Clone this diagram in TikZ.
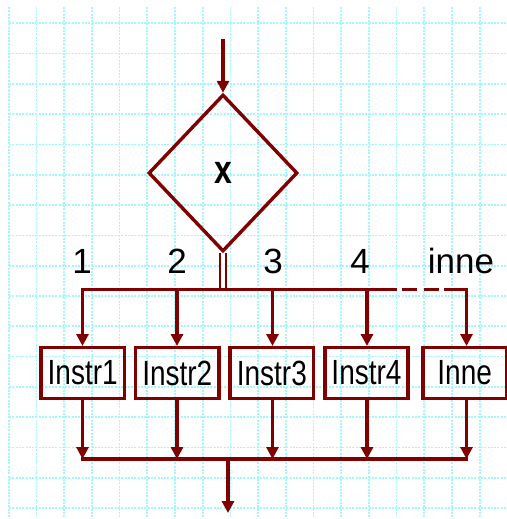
\documentclass[tikz,border=0pt]{standalone}
\usepackage{fontspec}
\setmainfont{Liberation Sans}
\newfontfamily\labfont{Liberation Sans}
\newfontfamily\boxfont[FakeStretch=0.8]{Liberation Sans}
\usetikzlibrary{arrows.meta,shapes.geometric}
\definecolor{flow}{RGB}{128,0,0}
\definecolor{gridc}{RGB}{165,248,250}

\begin{document}
\begin{tikzpicture}[x=1pt,y=-1pt,
  line/.style={draw=flow,line width=3.4pt},
  arr/.style={line,-{Triangle[width=12pt,length=12pt]}},
  gridline/.style={draw=gridc,line width=1.7pt,dash pattern=on 2pt off 1.3pt},
  stepbox/.style={draw=flow,line width=3.4pt,minimum width=83.3pt,
    minimum height=50.6pt,inner sep=0pt,
    font=\boxfont\fontsize{35}{40}\selectfont},
  decision/.style={diamond,draw=flow,line width=3.4pt,minimum width=149pt,
    minimum height=157pt,inner sep=0pt,
    font=\boxfont\bfseries\fontsize{40}{44}\selectfont},
  lab/.style={anchor=base,inner sep=0pt,font=\labfont\fontsize{35}{40}\selectfont}
]
\useasboundingbox (0,0) rectangle (506,519);
\fill[white] (0,0) rectangle (506,519);

% dotted background grid
\foreach \k in {0,...,18}
  \draw[gridline] (8.8+27.7*\k,7) -- (8.8+27.7*\k,519);
\foreach \k in {0,...,16}
  \draw[gridline] (9,23.3+30.3*\k) -- (506,23.3+30.3*\k);

% decision
\node[decision] (dec) at (223,173) {x};
\coordinate (in) at (223,39);
\draw[arr] (in) -- (dec.north);

% branch points on the upper bus
\coordinate (j1) at (82.5,289.5);
\coordinate (j2) at (177,289.5);
\coordinate (j3) at (272.5,289.5);
\coordinate (j4) at (367,289.5);
\coordinate (j5) at (466.5,289.5);
\coordinate (dA) at (397,289.5);
\coordinate (dB) at (444,289.5);

% case labels
\node[lab] (l1) at (82,273) {1};
\node[lab] (l2) at (177,273) {2};
\node[lab] (l3) at (273,273) {3};
\node[lab] (l4) at (360,273) {4};
\node[lab] (l5) at (461,273) {inne};

% instruction boxes
\node[stepbox] (i1) at (82.7,373) {Instr1};
\node[stepbox] (i2) at (177.3,373) {Instr2};
\node[stepbox] (i3) at (271.8,373) {Instr3};
\node[stepbox] (i4) at (366.5,373) {Instr4};
\node[stepbox] (i5) at (464.7,373) {Inne};

% selector output into the bus
\draw[line,double=white,double distance=3.4pt,line width=2.3pt,shorten >=1.7pt]
  (dec.south) -- (dec.south |- j1);

% upper bus and branches
\draw[arr] (dA) -- (j1) -- (j1 |- i1.north);
\draw[arr] (j2) -- (j2 |- i2.north);
\draw[arr] (j3) -- (j3 |- i3.north);
\draw[arr] (j4) -- (j4 |- i4.north);
\draw[arr] (dB) -- (j5) -- (j5 |- i5.north);
\draw[line,dash pattern=on 15pt off 7pt,dash phase=17.3pt] (dA) -- (dB);

% lower bus
\coordinate (k1) at (82.5,459);
\coordinate (k2) at (177,459);
\coordinate (k3) at (272.5,459);
\coordinate (k4) at (367,459);
\coordinate (k5) at (466.5,459);
\draw[arr] (k1 |- i1.south) -- (k1);
\draw[arr] (k2 |- i2.south) -- (k2);
\draw[arr] (k3 |- i3.south) -- (k3);
\draw[arr] (k4 |- i4.south) -- (k4);
\draw[arr] (k5 |- i5.south) -- (k5);
\draw[line,line cap=rect] (k1) -- (k5);

% common exit
\coordinate (m) at (228,459);
\coordinate (out) at (228,513);
\draw[arr] (m) -- (out);
\end{tikzpicture}
\end{document}
